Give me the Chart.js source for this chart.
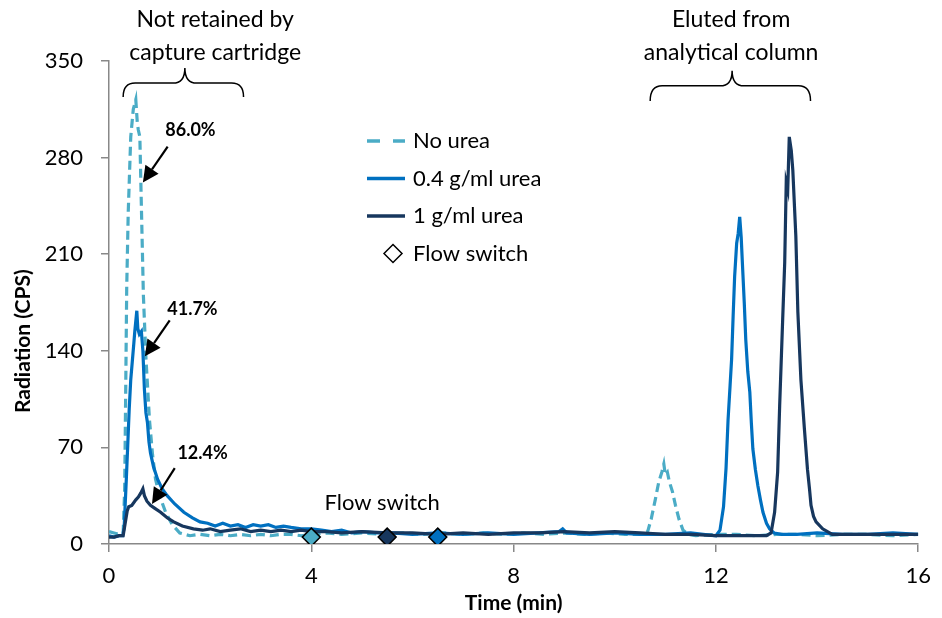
<!DOCTYPE html>
<html>
<head>
<meta charset="utf-8">
<script src="https://cdn.jsdelivr.net/npm/chart.js@4/dist/chart.umd.min.js"></script>
<style>
  html, body { margin: 0; padding: 0; background: #fff; }
  #wrap { width: 942px; height: 618px; }
</style>
</head>
<body>
<div id="wrap"><canvas id="chartCanvas" width="942" height="618"></canvas></div>
<script>
// readings: [time (min), radiation (CPS)]
const noUrea = [
  [0,9],[0.1,8],[0.2,7],[0.28,8],[0.31,40],[0.33,110],[0.35,185],[0.38,240],[0.43,295],[0.48,315],
  [0.53,322],[0.56,305],[0.58,300],[0.61,295],[0.64,245],[0.68,180],[0.73,135],[0.8,90],[0.86,65],
  [0.92,47],[1.0,35],[1.12,23],[1.25,14],[1.4,8],[1.5,7],[1.6,6],[1.8,7],[2.0,6],[2.2,7],[2.4,6],
  [2.6,7],[2.8,6],[3.0,7],[3.2,6],[3.4,7],[3.6,7],[3.8,6],[4.0,7],[4.3,8],[4.6,7],[5.0,8],[5.4,7],
  [5.8,8],[6.2,7],[6.6,8],[7.0,7],[7.4,8],[7.8,7],[8.2,8],[8.6,7],[9.0,8],[9.4,7],[9.8,8],[10.2,7],
  [10.5,7],[10.65,9],[10.72,18],[10.8,32],[10.87,45],[10.93,52],[10.97,58],[11.0,50],[11.04,52],
  [11.08,45],[11.14,38],[11.2,28],[11.27,18],[11.35,10],[11.45,7],[11.6,6],[12.0,7],[12.4,7],
  [12.8,6],[13.2,7],[13.6,7],[14.0,6],[14.5,7],[15.0,7],[15.5,6],[16.0,7]
];
const urea04 = [
  [0,6],[0.1,5],[0.2,6],[0.27,6],[0.3,12],[0.34,45],[0.37,71],[0.4,98],[0.43,119],[0.46,132],
  [0.49,145],[0.51,154],[0.55,169],[0.57,156],[0.6,152],[0.64,154],[0.67,140],[0.7,112],[0.73,95],
  [0.76,88],[0.79,74],[0.82,66],[0.88,56],[0.96,47],[1.05,40],[1.15,35],[1.3,29],[1.48,23],[1.65,19],
  [1.8,16],[1.95,15],[2.1,13],[2.25,15],[2.4,13],[2.55,14],[2.7,12],[2.85,14],[3.0,13],[3.15,14],
  [3.3,12],[3.45,13],[3.6,12],[3.8,11],[4.0,11],[4.2,10],[4.4,9],[4.6,10],[4.8,8],[5.0,9],[5.3,8],
  [5.6,8],[6.0,7],[6.5,8],[7.0,7],[7.5,8],[8.0,7],[8.5,8],[8.9,9],[8.97,11],[9.05,8],[9.5,7],[10.0,8],
  [10.5,7],[11.0,7],[11.5,8],[12.0,6],[12.08,10],[12.15,27],[12.2,55],[12.24,90],[12.28,115],
  [12.31,134],[12.34,165],[12.37,194],[12.41,218],[12.44,225],[12.47,237],[12.5,222],[12.52,206],
  [12.56,175],[12.59,148],[12.63,125],[12.67,110],[12.7,88],[12.73,69],[12.78,54],[12.83,42],
  [12.88,32],[12.93,23],[13.0,15],[13.06,11],[13.15,8],[13.3,7],[13.6,7],[14.0,8],[14.5,7],[15.0,7],
  [15.5,8],[16.0,7]
];
const urea1 = [
  [0,5],[0.1,5],[0.2,6],[0.28,6],[0.32,15],[0.36,24],[0.39,27],[0.45,28],[0.53,32],[0.58,34],
  [0.63,37],[0.67,40],[0.7,35],[0.75,31],[0.82,28],[0.9,26],[1.02,23],[1.15,19],[1.28,16],[1.45,13],
  [1.67,11],[1.85,10],[2.0,11],[2.2,9],[2.4,10],[2.6,11],[2.8,9],[3.0,10],[3.2,9],[3.4,10],[3.6,9],
  [3.8,10],[4.0,9],[4.3,9],[4.6,8],[5.0,9],[5.5,8],[6.0,8],[6.5,7],[7.0,8],[7.5,7],[8.0,8],[8.5,8],
  [9.0,9],[9.5,8],[10.0,9],[10.5,8],[11.0,7],[11.5,7],[12.0,6],[12.5,6],[13.0,6],[13.09,8],[13.16,23],
  [13.22,52],[13.26,100],[13.32,163],[13.36,204],[13.39,262],[13.42,257],[13.45,295],[13.49,285],
  [13.52,271],[13.58,223],[13.62,168],[13.68,119],[13.75,83],[13.81,54],[13.85,40],[13.88,28],
  [13.93,20],[13.98,16],[14.11,11],[14.3,7],[14.6,7],[15.0,7],[15.5,7],[16.0,7]
];
const flowSwitchTime = [4, 5.5, 6.5];
const flowSwitchCps = [5, 5, 5];

const xTicks = [0, 4, 8, 12, 16];
const yTicks = [0, 70, 140, 210, 280, 350];

const colLight = '#4BACC6';
const colMid = '#0070C0';
const colDark = '#17375E';
const fontName = 'Lato, "Liberation Sans", sans-serif';

const toPoints = arr => arr.map(p => ({ x: p[0], y: p[1] }));

// arrows with the recovered fraction (data coords)
const callouts = [
  { text: '86.0%', tx: 1.61, ty: 300, x0: 1.16, y0: 288, x1: 0.67, y1: 262 },
  { text: '41.7%', tx: 1.65, ty: 170, x0: 1.2, y0: 162, x1: 0.71, y1: 136 },
  { text: '12.4%', tx: 1.85, ty: 66, x0: 1.3, y0: 55, x1: 0.85, y1: 29 }
];
const braces = [
  { lines: ['Not retained by', 'capture cartridge'], textX: 2.1, xa: 0.28, xb: 2.66, xc: 1.5, tip: 345, mid: 334, end: 324 },
  { lines: ['Eluted from', 'analytical column'], textX: 12.3, xa: 10.7, xb: 13.87, xc: 12.32, tip: 343, mid: 332, end: 321 }
];

const annotationPlugin = {
  id: 'annotations',
  afterDatasetsDraw(chart) {
    const { ctx, scales: { x, y } } = chart;
    ctx.save();
    ctx.fillStyle = '#000';
    ctx.strokeStyle = '#000';

    // percent labels + arrows
    callouts.forEach(c => {
      ctx.font = 'bold 18px ' + fontName;
      ctx.textAlign = 'center';
      ctx.textBaseline = 'middle';
      ctx.fillText(c.text, x.getPixelForValue(c.tx), y.getPixelForValue(c.ty));
      const ax = x.getPixelForValue(c.x0), ay = y.getPixelForValue(c.y0);
      const bx = x.getPixelForValue(c.x1), by = y.getPixelForValue(c.y1);
      const ang = Math.atan2(by - ay, bx - ax);
      const hl = 16, hw = 8;
      const baseX = bx - hl * Math.cos(ang), baseY = by - hl * Math.sin(ang);
      ctx.lineWidth = 2.2;
      ctx.beginPath();
      ctx.moveTo(ax, ay);
      ctx.lineTo(baseX, baseY);
      ctx.stroke();
      ctx.beginPath();
      ctx.moveTo(bx, by);
      ctx.lineTo(baseX + hw * Math.sin(ang), baseY - hw * Math.cos(ang));
      ctx.lineTo(baseX - hw * Math.sin(ang), baseY + hw * Math.cos(ang));
      ctx.closePath();
      ctx.fill();
    });

    // curly braces with their captions
    braces.forEach(b => {
      const xa = x.getPixelForValue(b.xa), xb = x.getPixelForValue(b.xb), xc = x.getPixelForValue(b.xc);
      const yt = y.getPixelForValue(b.tip), ym = y.getPixelForValue(b.mid), ye = y.getPixelForValue(b.end);
      const r = 12;
      ctx.lineWidth = 1.5;
      ctx.beginPath();
      ctx.moveTo(xa, ye);
      ctx.quadraticCurveTo(xa, ym, xa + r, ym);
      ctx.lineTo(xc - r, ym);
      ctx.quadraticCurveTo(xc, ym, xc, yt);
      ctx.quadraticCurveTo(xc, ym, xc + r, ym);
      ctx.lineTo(xb - r, ym);
      ctx.quadraticCurveTo(xb, ym, xb, ye);
      ctx.stroke();
      ctx.font = '23px ' + fontName;
      ctx.textAlign = 'center';
      ctx.textBaseline = 'middle';
      const tx = x.getPixelForValue(b.textX);
      ctx.fillText(b.lines[0], tx, chart.chartArea.top - 41);
      ctx.fillText(b.lines[1], tx, chart.chartArea.top - 8);
    });

    // flow switch caption
    ctx.font = '22px ' + fontName;
    ctx.textAlign = 'center';
    ctx.fillText('Flow switch', x.getPixelForValue(5.4), y.getPixelForValue(30));

    // y axis title, drawn by hand to sit where the original has it
    ctx.save();
    ctx.font = 'bold 21px ' + fontName;
    ctx.translate(23, y.getPixelForValue(147));
    ctx.rotate(-Math.PI / 2);
    ctx.fillText('Radiation (CPS)', 0, 0);
    ctx.restore();

    // legend
    const lx = chart.chartArea.left + 258, ly = chart.chartArea.top + 80;
    const rowH = 37.5;
    ctx.font = '22px ' + fontName;
    ctx.textAlign = 'left';
    chart.data.datasets.forEach((ds, i) => {
      const cy = ly + i * rowH;
      if (ds.showLine === false) {
        const cx = lx + 26, s = 9;
        ctx.fillStyle = '#fff';
        ctx.lineWidth = 1.5;
        ctx.beginPath();
        ctx.moveTo(cx, cy - s); ctx.lineTo(cx + s, cy); ctx.lineTo(cx, cy + s); ctx.lineTo(cx - s, cy);
        ctx.closePath();
        ctx.fill();
        ctx.stroke();
      } else {
        ctx.strokeStyle = ds.borderColor;
        ctx.lineWidth = 3.5;
        ctx.setLineDash(ds.borderDash ? [13, 13] : []);
        ctx.beginPath();
        ctx.moveTo(lx, cy);
        ctx.lineTo(lx + 38, cy);
        ctx.stroke();
        ctx.setLineDash([]);
      }
      ctx.strokeStyle = '#000';
      ctx.fillStyle = '#000';
      ctx.fillText(ds.label, lx + 46, cy);
    });
    ctx.restore();
  }
};

const lineStyle = { pointRadius: 0, borderWidth: 3.2, tension: 0, fill: false };

new Chart(document.getElementById('chartCanvas'), {
  type: 'line',
  data: {
    datasets: [
      { ...lineStyle, label: 'No urea', data: toPoints(noUrea), borderColor: colLight, borderDash: [9, 5], order: 4 },
      { ...lineStyle, label: '0.4 g/ml urea', data: toPoints(urea04), borderColor: colMid, order: 3 },
      { ...lineStyle, label: '1 g/ml urea', data: toPoints(urea1), borderColor: colDark, order: 2 },
      {
        label: 'Flow switch',
        data: flowSwitchTime.map((t, i) => ({ x: t, y: flowSwitchCps[i] })),
        showLine: false,
        pointStyle: 'rectRot',
        pointRadius: 9,
        pointBorderWidth: 1.5,
        pointBorderColor: '#000',
        pointBackgroundColor: [colLight, colDark, colMid],
        order: 1
      }
    ]
  },
  options: {
    responsive: false,
    animation: false,
    layout: { padding: { top: 61, right: 19, left: 0, bottom: 0 } },
    plugins: { legend: { display: false }, tooltip: { enabled: false } },
    scales: {
      x: {
        type: 'linear', min: 0, max: 16,
        afterBuildTicks: s => { s.ticks = xTicks.map(v => ({ value: v })); },
        afterFit: s => { s.height = 74; },
        ticks: { color: '#000', padding: 11, font: { family: fontName, size: 22 } },
        grid: { drawOnChartArea: false, drawTicks: true, tickLength: 8, color: '#888', lineWidth: 1.5 },
        border: { display: true, color: '#888', width: 1.5 },
        title: { display: true, text: 'Time (min)', color: '#000', padding: { top: 0, bottom: 2 }, font: { family: fontName, size: 21, weight: 'bold' } }
      },
      y: {
        min: 0, max: 350,
        afterBuildTicks: s => { s.ticks = yTicks.map(v => ({ value: v })); },
        afterFit: s => { s.width = 109; },
        ticks: { color: '#000', padding: 18, font: { family: fontName, size: 22 } },
        grid: { drawOnChartArea: false, drawTicks: true, tickLength: 8, color: '#888', lineWidth: 1.5 },
        border: { display: true, color: '#888', width: 1.5 },
        title: { display: false }
      }
    }
  },
  plugins: [annotationPlugin]
});
</script>
</body>
</html>
